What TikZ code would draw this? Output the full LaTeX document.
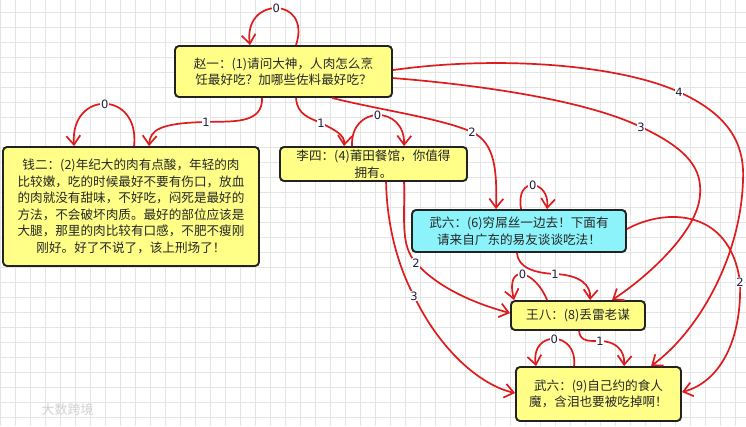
\documentclass[tikz,border=0pt]{standalone}
\usepackage{fontspec}
\setmainfont{Noto Sans CJK SC}
\newfontfamily\labfont{DejaVu Sans}
\usetikzlibrary{arrows.meta,calc}
\definecolor{edgered}{RGB}{222,28,30}
\definecolor{boxyellow}{RGB}{255,255,136}
\definecolor{boxcyan}{RGB}{140,243,250}
\definecolor{boxborder}{RGB}{34,34,34}
\definecolor{gridc}{RGB}{228,228,228}
\definecolor{labcol}{RGB}{30,30,60}
\begin{document}
\begin{tikzpicture}[x=1pt,y=-1pt,
  box/.style={draw=boxborder, line width=1.9pt, rounded corners=4pt, fill=boxyellow,
    inner sep=0pt, align=center, font=\fontsize{12.6}{16.5}\selectfont, text=black!85},
  edge/.style={draw=edgered, line width=1.7pt, -{Straight Barb[length=9pt,width=14pt]}},
  lab/.style={fill=white, inner sep=0.8pt, font=\labfont\fontsize{11.5}{11.5}\selectfont, text=labcol}]
\useasboundingbox (0,0) rectangle (746,426);
\fill[white] (0,0) rectangle (746,426);
\foreach \x in {0,15,...,735} \draw[gridc, line width=0.6pt] (\x,0) -- (\x,426);
\foreach \y in {12,27,...,417} \draw[gridc, line width=0.6pt] (0,\y) -- (746,\y);
\node[text=black!18, font=\fontsize{13}{13}\selectfont, anchor=west] (wm) at (38,410) {大数跨境};

% nodes
\node[box, minimum width=217pt, minimum height=51pt] (n1) at (283.5,71.5)
  {赵一：(1)请问大神，人肉怎么烹\\饪最好吃？加哪些佐料最好吃？};
\node[box, minimum width=256pt, minimum height=119pt] (n2) at (131,206.5)
  {钱二：(2)年纪大的肉有点酸，年轻的肉\\比较嫩，吃的时候最好不要有伤口，放血\\的肉就没有甜味，不好吃，闷死是最好的\\方法，不会破坏肉质。最好的部位应该是\\大腿，那里的肉比较有口感，不肥不瘦刚\\刚好。好了不说了，该上刑场了！};
\node[box, minimum width=187pt, minimum height=34pt] (n3) at (373.5,164)
  {李四：(4)莆田餐馆，你值得\\拥有。};
\node[box, fill=boxcyan, minimum width=214pt, minimum height=42pt] (n4) at (519,231)
  {武六：(6)穷屌丝一边去！下面有\\请来自广东的易友谈谈吃法！};
\node[box, minimum width=134pt, minimum height=29pt] (n5) at (578,315.5)
  {王八：(8)丢雷老谋};
\node[box, minimum width=165pt, minimum height=54pt] (n6) at (598.5,394)
  {武六：(9)自己约的食人\\魔，含泪也要被吃掉啊！};

% edges
\draw[edge] ($(n1.north west)+(122,0)$) .. controls (312,-4) and (243,-4) .. node[lab]{0} ($(n1.north west)+(76,0)$);
\draw[edge] ($(n1.south west)+(88,0)$) .. controls (263,125) and (230,121) .. (206,122) node[lab]{1}
  .. controls (160,123) and (150,130) .. ($(n2.north west)+(147,0)$);
\draw[edge] ($(n2.north west)+(132,0)$) .. controls (140,90) and (70,90) .. node[lab]{0} ($(n2.north west)+(72,0)$);
\draw[edge] ($(n1.south west)+(122,0)$) .. controls (297,115) and (310,118) .. (321,123) node[lab]{1}
  .. controls (335,130) and (345,135) .. ($(n3.north west)+(65,0)$);
\draw[edge] ($(n3.north west)+(73,0)$) .. controls (350,105) and (405,105) .. node[lab]{0} ($(n3.north west)+(125,0)$);
\draw[edge] ($(n1.south west)+(158,0)$) .. controls (380,110) and (440,118) .. (472,132) node[lab]{2}
  .. controls (495,143) and (497,170) .. ($(n4.north west)+(85,0)$);
\draw[edge] ($(n4.north west)+(110,0)$) .. controls (515,175) and (550,180) .. node[lab]{0} ($(n4.north west)+(136,0)$);
\draw[edge] ($(n3.south west)+(125,0)$) .. controls (405,220) and (400,245) .. (416,263) node[lab]{2}
  .. controls (440,290) and (480,305) .. ($(n5.north west)+(0,13)$);
\draw[edge] ($(n3.south west)+(107,0)$) .. controls (387,230) and (400,270) .. (414,296) node[lab]{3}
  .. controls (440,350) and (480,385) .. ($(n6.north west)+(0,27)$);
\draw[edge] ($(n4.south west)+(106,0)$) .. controls (518,268) and (535,273) .. (555,274) node[lab]{1}
  .. controls (580,275) and (591,285) .. ($(n5.north west)+(80,0)$);
\draw[edge] ($(n5.north west)+(37,0)$) .. controls (535,270) and (505,262) .. node[lab]{0} ($(n5.north west)+(4,0)$);
\draw[edge] ($(n1.north east)+(0,33)$) .. controls (480,85) and (585,100) .. (641,127) node[lab]{3}
  .. controls (690,150) and (702,170) .. (700,195)
  .. controls (698,230) and (650,275) .. ($(n5.north west)+(102,0)$);
\draw[edge] ($(n1.north east)+(0,25)$) .. controls (500,55) and (620,65) .. (679,92) node[lab]{4}
  .. controls (725,113) and (745,140) .. (743,180)
  .. controls (741,255) and (700,330) .. ($(n6.north west)+(136,0)$);
\draw[edge] ($(n4.north east)+(0,20)$) .. controls (665,208) and (730,208) .. (740,282) node[lab]{2}
  .. controls (742,340) and (720,382) .. ($(n6.north east)+(0,26)$);
\draw[edge] ($(n5.south west)+(69,0)$) .. controls (580,342) and (590,341) .. (600,341) node[lab]{1}
  .. controls (615,341) and (625,350) .. ($(n6.north west)+(109,0)$);
\draw[edge] ($(n6.north west)+(59,0)$) .. controls (578,330) and (530,330) .. node[lab]{0} ($(n6.north west)+(21,0)$);
\end{tikzpicture}
\end{document}
